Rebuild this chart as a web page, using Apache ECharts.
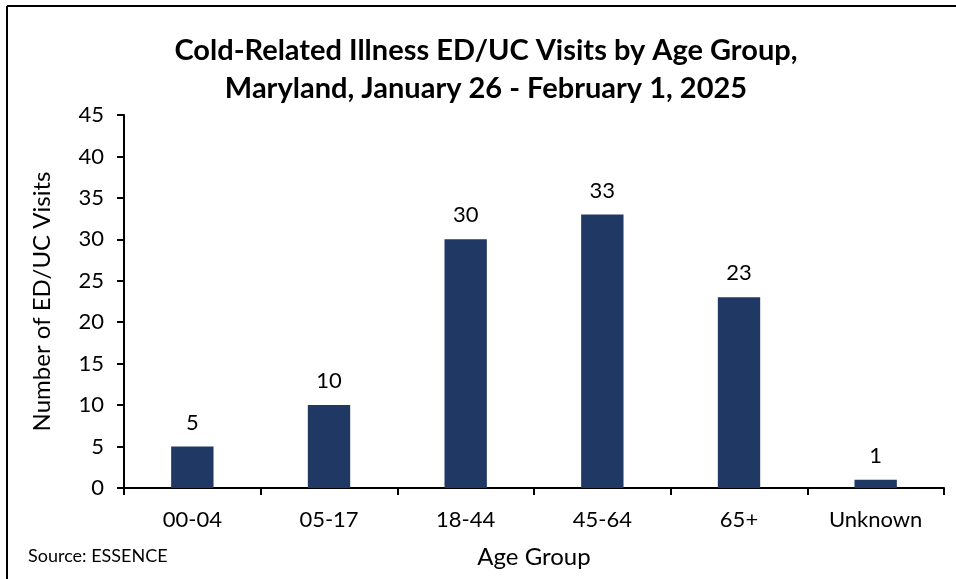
<!DOCTYPE html>
<html>
<head>
<meta charset="utf-8">
<script src="https://cdn.jsdelivr.net/npm/echarts@6/dist/echarts.min.js"></script>
<style>
html,body{margin:0;padding:0;background:#fff;}
#chart{width:956px;height:579px;}
</style>
</head>
<body>
<div id="chart"></div>
<script>
const titleText = 'Cold-Related Illness ED/UC Visits by Age Group,\nMaryland, January 26 - February 1, 2025';
const categories = ['00-04', '05-17', '18-44', '45-64', '65+', 'Unknown'];
const visits = [5, 10, 30, 33, 23, 1];
const yAxisName = 'Number of ED/UC Visits';
const xAxisName = 'Age Group';
const sourceText = 'Source: ESSENCE';

const FONT = 'Lato';
const chart = echarts.init(document.getElementById('chart'));
chart.setOption({
  animation: false,
  backgroundColor: '#fff',
  textStyle: { fontFamily: FONT },
  title: {
    text: titleText,
    left: 481,
    textAlign: 'center',
    top: 27,
    textStyle: { fontFamily: FONT, fontSize: 29, fontWeight: 'bold', color: '#000', lineHeight: 38 }
  },
  graphic: [
    { type: 'line', shape: { x1: 7, y1: 6, x2: 956, y2: 6 }, style: { stroke: '#000', lineWidth: 2 } },
    { type: 'line', shape: { x1: 7, y1: 6, x2: 7, y2: 579 }, style: { stroke: '#000', lineWidth: 2 } },
    { type: 'text', left: 28, top: 547, style: { text: sourceText, fontFamily: FONT, fontSize: 18, fill: '#000' } }
  ],
  grid: { left: 124, right: 12, top: 115, bottom: 91 },
  xAxis: {
    type: 'category',
    data: categories,
    name: xAxisName,
    nameLocation: 'middle',
    nameGap: 57,
    nameTextStyle: { fontFamily: FONT, fontSize: 24, color: '#000' },
    axisLine: { lineStyle: { color: '#000', width: 2 } },
    axisTick: { show: true, alignWithLabel: false, length: 7, lineStyle: { color: '#000', width: 2 } },
    axisLabel: { fontFamily: FONT, fontSize: 22, color: '#000', margin: 21 }
  },
  yAxis: {
    type: 'value',
    min: 0, max: 45, interval: 5,
    name: yAxisName,
    nameLocation: 'middle',
    nameGap: 70,
    nameTextStyle: { fontFamily: FONT, fontSize: 24, color: '#000' },
    splitLine: { show: false },
    axisLine: { show: true, lineStyle: { color: '#000', width: 2 } },
    axisTick: { show: true, length: 7, lineStyle: { color: '#000', width: 2 } },
    axisLabel: { fontFamily: FONT, fontSize: 22, color: '#000', margin: 20 }
  },
  series: [{
    type: 'bar',
    data: visits,
    barWidth: '31%',
    itemStyle: { color: '#203864' },
    label: { show: true, position: 'top', distance: 13, fontFamily: FONT, fontSize: 22, color: '#000' }
  }]
});
</script>
</body>
</html>
